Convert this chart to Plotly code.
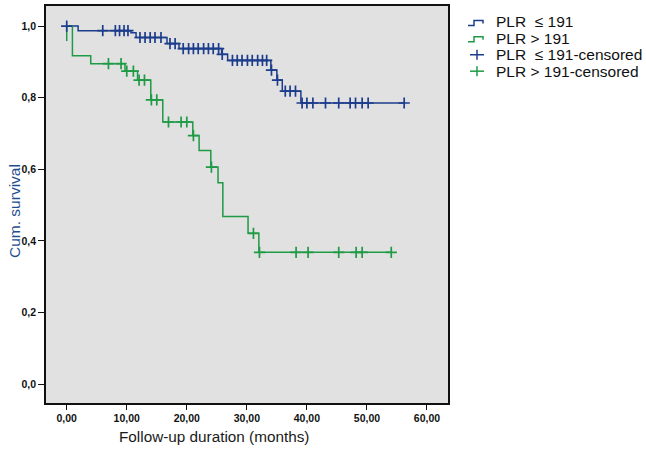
import numpy as np
import plotly.graph_objects as go

# ---- data ----
# PLR <= 191 (blue)
low_event_times = [0.0, 1.9, 10.7, 11.55, 16.7, 18.7, 25.8, 26.8, 34.0, 35.0, 35.9, 39.0]
low_event_surv = [1.0, 0.987, 0.981, 0.968, 0.951, 0.937, 0.921, 0.904, 0.877, 0.849, 0.818, 0.785]
low_end_time = 56.2
low_censor_times = [0.0, 6.0, 8.1, 8.8, 9.55, 10.2, 12.2, 13.05, 13.9, 14.7, 15.7, 17.2, 18.05,
                    19.4, 20.3, 21.1, 21.9, 22.8, 23.6, 24.4, 25.3, 25.9, 27.6, 28.4, 29.2, 30.1,
                    30.9, 31.8, 32.6, 33.3, 34.1, 35.1, 36.4, 37.2, 38.1, 39.2, 40.0, 41.0, 43.1,
                    45.3, 47.2, 48.1, 49.2, 50.2, 56.2]

# PLR > 191 (green)
high_start_times = [0.0, 0.0]
high_start_surv = [1.0, 0.958]
high_event_times = [0.0, 0.95, 4.0, 9.7, 11.8, 14.0, 16.0, 21.0, 22.05, 24.0, 25.2, 26.0, 30.2, 32.0]
high_event_surv = [1.0, 0.917, 0.895, 0.874, 0.849, 0.794, 0.732, 0.694, 0.652, 0.606, 0.562,
                   0.468, 0.421, 0.368]
high_end_time = 54.05
high_censor_times = [6.95, 9.05, 10.0, 11.1, 12.05, 12.95, 14.1, 15.0, 16.95, 19.05, 20.0, 21.1,
                     24.1, 31.1, 32.1, 38.2, 40.2, 45.3, 48.2, 49.2, 54.05]

x_ticks = [0, 10, 20, 30, 40, 50, 60]
x_tick_labels = ["0,00", "10,00", "20,00", "30,00", "40,00", "50,00", "60,00"]
y_ticks = [0.0, 0.2, 0.4, 0.6, 0.8, 1.0]
y_tick_labels = ["0,0", "0,2", "0,4", "0,6", "0,8", "1,0"]

legend_labels = ["PLR\u00a0\u00a0≤ 191", "PLR > 191", "PLR\u00a0\u00a0≤ 191-censored", "PLR > 191-censored"]
legend_kinds = ["step", "step", "cross", "cross"]

BLUE = "#1c3d8c"
GREEN = "#1f9a45"
legend_colors = [BLUE, GREEN, BLUE, GREEN]

# plot-area geometry (pixels)
L, T, W, H = 46, 4, 402, 399


def px(xp):
    return (xp - L) / W


def py(yp):
    return (T + H - yp) / H


def surv_at(times, ev_t, ev_s):
    ev_t = np.asarray(ev_t)
    ev_s = np.asarray(ev_s)
    idx = np.searchsorted(ev_t, np.asarray(times), side="right") - 1
    return ev_s[np.clip(idx, 0, len(ev_s) - 1)]


fig = go.Figure()

fig.add_trace(go.Scatter(
    x=low_event_times + [low_end_time],
    y=low_event_surv + [low_event_surv[-1]],
    mode="lines", line=dict(color=BLUE, width=1.5, shape="hv"),
    name=legend_labels[0], hoverinfo="skip"))

fig.add_trace(go.Scatter(
    x=high_event_times + [high_end_time],
    y=high_event_surv + [high_event_surv[-1]],
    mode="lines", line=dict(color=GREEN, width=1.5, shape="hv"),
    name=legend_labels[1], hoverinfo="skip"))

fig.add_trace(go.Scatter(
    x=high_start_times, y=high_start_surv,
    mode="lines", line=dict(color=GREEN, width=1.5),
    hoverinfo="skip"))

fig.add_trace(go.Scatter(
    x=low_censor_times,
    y=surv_at(low_censor_times, low_event_times, low_event_surv),
    mode="markers",
    marker=dict(symbol="cross-thin", size=8, line=dict(color=BLUE, width=1.7), color=BLUE),
    name=legend_labels[2]))

fig.add_trace(go.Scatter(
    x=high_censor_times,
    y=surv_at(high_censor_times, high_event_times, high_event_surv),
    mode="markers",
    marker=dict(symbol="cross-thin", size=8, line=dict(color=GREEN, width=1.7), color=GREEN),
    name=legend_labels[3]))

# ---- hand-built legend (matches SPSS layout) ----
shapes = []
annotations = []
row_y = [20.0, 36.5, 53.0, 69.5]
for lab, kind, col, yc in zip(legend_labels, legend_kinds, legend_colors, row_y):
    if kind == "step":
        pts = [(468, yc + 3.5), (474, yc + 3.5), (474, yc - 1.5), (483, yc - 1.5), (483, yc + 1.5)]
        path = "M " + " L ".join(f"{px(a):.5f},{py(b):.5f}" for a, b in pts)
        shapes.append(dict(type="path", xref="paper", yref="paper", path=path,
                           line=dict(color=col, width=1.5)))
    else:
        shapes.append(dict(type="line", xref="paper", yref="paper",
                           x0=px(470), x1=px(484), y0=py(yc), y1=py(yc),
                           line=dict(color=col, width=1.5)))
        shapes.append(dict(type="line", xref="paper", yref="paper",
                           x0=px(477), x1=px(477), y0=py(yc - 5), y1=py(yc + 5),
                           line=dict(color=col, width=1.5)))
    annotations.append(dict(text=lab, xref="paper", yref="paper", x=px(494), y=py(yc),
                            xanchor="left", yanchor="middle", showarrow=False,
                            font=dict(size=15.5, color="#111111")))

annotations.append(dict(text="Follow-up duration (months)", xref="paper", yref="paper",
                        x=px(214), y=py(437), xanchor="center", yanchor="middle",
                        showarrow=False, font=dict(size=15.3, color="#1a1a1a")))
annotations.append(dict(text="Cum. survival", xref="paper", yref="paper",
                        x=px(15), y=py(210), xanchor="center", yanchor="middle",
                        textangle=-90, showarrow=False, font=dict(size=15.5, color="#1f4f8f")))

tick_font = dict(family="Liberation Sans, Arial, sans-serif", size=10.5, color="#111111",
                 weight="bold")

fig.update_layout(
    width=646, height=453,
    margin=dict(l=L, r=646 - L - W, t=T, b=453 - T - H),
    paper_bgcolor="white",
    plot_bgcolor="#e1e1e1",
    font=dict(family="Liberation Sans, Arial, sans-serif"),
    showlegend=False,
    xaxis=dict(
        range=[-3.45, 63.5], tickmode="array", tickvals=x_ticks, ticktext=x_tick_labels,
        showgrid=False, zeroline=False, showline=True, mirror=True,
        linecolor="#111111", linewidth=1.5,
        ticks="outside", ticklen=5, tickwidth=1.3, tickcolor="#111111",
        tickfont=tick_font,
    ),
    yaxis=dict(
        range=[-0.053, 1.056], tickmode="array", tickvals=y_ticks, ticktext=y_tick_labels,
        showgrid=False, zeroline=False, showline=True, mirror=True,
        linecolor="#111111", linewidth=1.5,
        ticks="outside", ticklen=6, tickwidth=1.3, tickcolor="#111111",
        tickfont=tick_font,
    ),
    shapes=shapes,
    annotations=annotations,
)

fig.write_html("out.html", config={"displayModeBar": False},
               post_script="document.body.style.margin='0';")
